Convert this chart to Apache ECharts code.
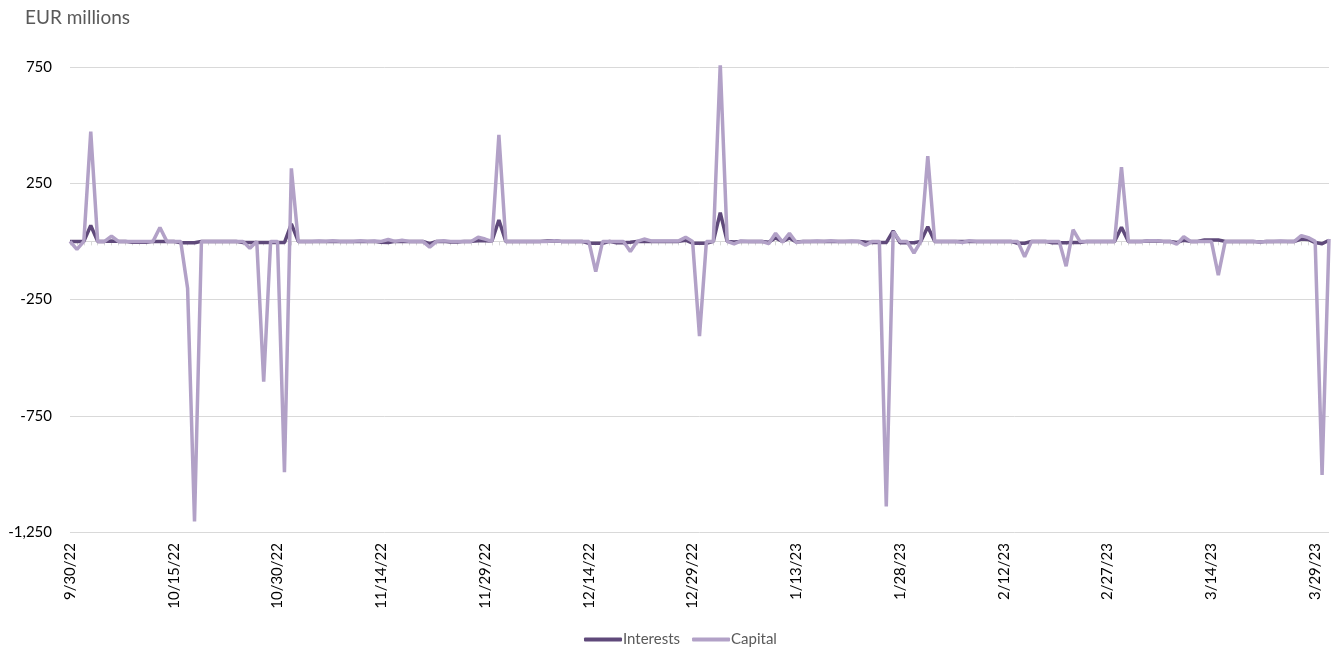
<!DOCTYPE html>
<html>
<head>
<meta charset="utf-8">
<script src="https://cdn.jsdelivr.net/npm/echarts@6/dist/echarts.min.js"></script>
<style>
html,body{margin:0;padding:0;background:#fff;}
#chart{width:1335px;height:648px;}
</style>
</head>
<body>
<div id="chart"></div>
<script>
// Daily dates from 9/30/22 to 3/31/23 (183 days)
const startDate = [2022, 9, 30];
const dayCount = 183;
const categories = [];
(function(){
  const d = new Date(Date.UTC(startDate[0], startDate[1]-1, startDate[2]));
  for (let i = 0; i < dayCount; i++) {
    const t = new Date(d.getTime() + i*86400000);
    categories.push((t.getUTCMonth()+1) + '/' + t.getUTCDate() + '/' + String(t.getUTCFullYear()).slice(2));
  }
})();

// EUR millions, one value per day
const interests = [
  0,0,0,68,0,0,2,0,0,-4, -4,-4,0,0,0,0,-6,-6,-6,0,
  0,0,0,0,0,-5,-5,-5,-5,-5, -5,-5,75,0,0,0,0,0,0,0,
  0,0,0,0,0,-4,-5,0,0,0, 0,0,-10,0,0,-3,-3,0,0,3,
  3,2,92,0,0,0,0,0,0,2, 3,0,0,0,0,-8,-8,-8,0,-6,
  -6,-4,0,0,0,0,0,0,0,5, -8,-8,-8,0,124,0,-3,0,0,0,
  0,-4,15,0,15,-3,0,0,0,0, 0,0,0,0,0,-3,-5,-5,-5,45,
  -6,-6,-6,0,63,0,0,0,0,0, 0,0,0,0,0,0,0,-8,-8,0,
  0,0,-6,-6,-6,-5,-5,0,0,0, 0,0,61,0,0,0,2,2,0,0,
  -5,5,0,0,6,6,6,0,0,0, 0,0,-3,0,0,0,0,0,10,8,
  -5,-10,5
];
const capital = [
  0,-34,0,472,0,0,23,0,0,0, 0,0,0,60,0,0,0,-202,-1205,0,
  0,0,0,0,0,0,-30,0,-603,0, 0,-993,314,0,0,0,2,0,3,0,
  0,0,3,0,2,0,8,0,5,0, 0,0,-25,0,3,0,0,0,0,18,
  10,0,458,0,0,0,0,0,0,0, 3,0,0,0,0,0,-130,0,0,0,
  0,-44,0,10,2,2,2,2,2,18, 0,-407,0,0,763,0,-11,2,0,0,
  0,-10,35,-3,35,-5,0,0,2,0, 3,0,0,2,0,-17,0,0,-1140,42,
  0,0,-50,0,367,0,0,0,0,-5, 3,0,0,0,0,0,0,0,-66,0,
  0,0,0,0,-107,50,0,0,0,0, 0,0,319,0,0,0,3,3,0,0,
  -12,20,0,0,0,0,-145,0,0,0, 0,0,-3,0,0,2,0,0,25,16,
  0,-1005,10
];

const yTicks = [-1250, -750, -250, 250, 750];
const seriesNames = ['Interests', 'Capital'];

const FONT = 'Lato';
const chart = echarts.init(document.getElementById('chart'), null, {renderer: 'canvas'});
chart.setOption({
  animation: false,
  backgroundColor: '#ffffff',
  title: {
    text: 'EUR millions',
    left: 20, top: 3,
    textStyle: {fontFamily: FONT, fontSize: 19, fontWeight: 'normal', color: '#595959'}
  },
  legend: {
    data: seriesNames,
    top: 627, left: 579,
    icon: 'roundRect',
    itemWidth: 38, itemHeight: 4, itemGap: 12,
    textStyle: {fontFamily: FONT, fontSize: 15, color: '#595959', padding: [0,0,0,-4]}
  },
  grid: {left: 70, right: 6, top: 67, bottom: 116, containLabel: false},
  xAxis: [{
    type: 'category',
    data: categories,
    boundaryGap: false,
    axisLine: {show: false, onZero: false},
    axisTick: {show: false},
    axisLabel: {interval: 14, rotate: 90, margin: 11, fontFamily: FONT, fontSize: 15, color: '#000000'},
    splitLine: {show: false}
  }, {
    type: 'category',
    data: categories,
    boundaryGap: false,
    position: 'bottom',
    axisLine: {show: true, onZero: true, lineStyle: {color: '#d9d9d9', width: 1}},
    axisTick: {show: true, interval: 0, length: 4, lineStyle: {color: '#d9d9d9'}},
    axisLabel: {show: false},
    splitLine: {show: false}
  }],
  yAxis: {
    type: 'value',
    min: yTicks[0], max: yTicks[yTicks.length-1], interval: 500,
    axisLine: {show: false},
    axisTick: {show: false},
    axisLabel: {
      margin: 18, fontFamily: FONT, fontSize: 15, color: '#000000',
      formatter: v => v.toLocaleString('en-US')
    },
    splitLine: {show: true, lineStyle: {color: '#d9d9d9', width: 1}}
  },
  series: [{
    name: 'Interests', type: 'line', data: interests,
    xAxisIndex: 0,
    symbol: 'none', color: '#5F497A',
    lineStyle: {width: 3.5, color: '#5F497A'}
  }, {
    name: 'Capital', type: 'line', data: capital,
    xAxisIndex: 0,
    symbol: 'none', color: '#B2A1C7',
    lineStyle: {width: 3.5, color: '#B2A1C7'}
  }]
});
</script>
</body>
</html>
